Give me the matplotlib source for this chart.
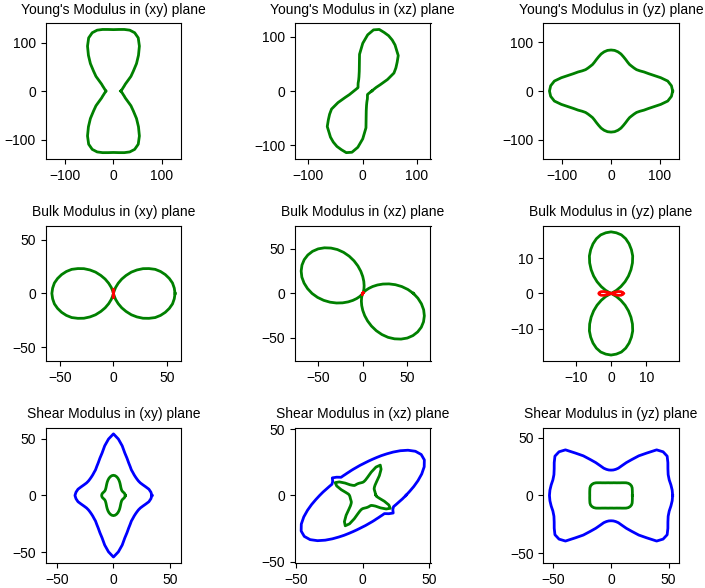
import numpy as np
from matplotlib import pyplot as plt

plt.rcParams['font.family'] = ['Liberation Sans', 'DejaVu Sans']
plt.rcParams['font.size'] = 10

# directions (deg) at which the radii were read; curves are centrosymmetric,
# so each list covers 0..175 and is drawn again at +180
angles = np.arange(0, 180, 5)

young_xy = [15, 16, 17.8, 19.5, 21.5, 24.5, 28, 35, 47, 58, 74, 90, 107, 121, 128, 130, 129, 127.5,
            126.7, 127.5, 129, 130, 128, 121, 107, 90, 74, 58, 47, 35, 28, 24.5, 21.5, 19.5, 17.8, 16]
young_xz = [16.5, 18.5, 21.4, 25.5, 34.4, 50.3, 66.4, 74.6, 82.8, 92.5, 97.4, 103.7, 108.6, 112.6, 115, 117.5, 114.5, 104,
            88, 68, 37, 27, 22, 19, 17, 15, 13.5, 12.2, 11.3, 10.8, 11.1, 11.5, 12.1, 12.8, 13.7, 14.9]
young_yz = [126.8, 124.8, 118.5, 106, 94, 85, 78.5, 72.5, 68.5, 67, 66.5, 66.6, 68.5, 71.5, 75, 79, 82, 84,
            84.5, 84, 82, 79, 75, 71.5, 68.5, 66.6, 66.5, 67, 68.5, 72.5, 78.5, 85, 94, 106, 118.5, 124.8]

# bulk: negative values are drawn in red
bulk_xy = [57.5, 57, 56, 54, 51.5, 48.5, 45, 40.5, 36, 31, 26, 20.5, 15.5, 10.5, 6, 2, -1.5, -3.5,
           -4, -3.5, -1.5, 2, 6, 10.5, 15.5, 20.5, 26, 31, 36, 40.5, 45, 48.5, 51.5, 54, 56, 57]
bulk_xz = [57, 51, 44.6, 38, 31.4, 25, 19, 13.6, 8.9, 5.1, 2.3, 0.5, -1.2, 0.5, 2.3, 5.1, 8.9, 13.6,
           19, 25, 31.4, 38, 44.6, 51, 57, 62.3, 67, 70.9, 73.7, 75.4, 76, 75.4, 73.7, 70.9, 67, 62.3]
bulk_yz = [-3.5, -3.3, -2.9, -2.1, -1.0, 0.3, 1.8, 3.4, 5.2, 7, 8.8, 10.6, 12.3, 13.7, 15, 16.1, 16.9, 17.3,
           17.5, 17.3, 16.9, 16.1, 15, 13.7, 12.3, 10.6, 8.8, 7, 5.2, 3.4, 1.8, 0.3, -1.0, -2.1, -2.9, -3.3]

shear_xy_max = [34, 33.2, 31.8, 29.5, 27.6, 26.2, 25.5, 25.3, 25.4, 25.8, 26.6, 27.6, 29.5, 31.8, 35, 38.8, 44.5, 50,
                54.4, 50, 44.5, 38.8, 35, 31.8, 29.5, 27.6, 26.6, 25.8, 25.4, 25.3, 25.5, 26.2, 27.6, 29.5, 31.8, 33.2]
shear_xy_min = [10.4, 10.3, 10, 9.5, 9, 8.7, 8.6, 8.7, 9, 9.4, 10, 10.8, 11.8, 13, 14.3, 15.6, 16.7, 17.5,
                17.8, 17.5, 16.7, 15.6, 14.3, 13, 11.8, 10.8, 10, 9.4, 9, 8.7, 8.6, 8.7, 9, 9.5, 10, 10.3]
shear_xz_max = [32.5, 35.5, 39.1, 43.1, 47.3, 51.1, 53.6, 53.8, 51.8, 48.2, 44, 39.9, 36.2, 33.1, 30.4, 28.2, 26.4, 24.9,
                23.7, 22.8, 22, 21.4, 21, 20.7, 20.5, 20.5, 20.6, 20.9, 21.3, 24, 26.5, 25, 24.7, 26.1, 27.8, 30]
shear_xz_min = [10, 9.7, 9.6, 9.6, 9.6, 9.7, 9.9, 10.7, 12.1, 14.8, 19.5, 24.1, 26.4, 23.6, 18.7, 14.3, 11.8, 10.5,
                9.9, 9.7, 9.6, 9.6, 9.6, 9.6, 9.6, 9.6, 9.8, 10.8, 12.5, 16.3, 20.4, 22.9, 20.9, 16.8, 12.9, 10.7]
shear_yz_max = [53.5, 53.3, 52.8, 52.3, 52.8, 54.5, 57, 59.5, 59, 56, 48, 42, 36, 31.5, 27.5, 24.5, 23, 22.2,
                22, 22.2, 23, 24.5, 27.5, 31.5, 36, 42, 48, 56, 59, 59.5, 57, 54.5, 52.8, 52.3, 52.8, 53.3]
shear_yz_min = [18.5, 18.6, 18.8, 19.1, 19.5, 19.6, 19.2, 18.4, 17.1, 15.6, 14.4, 13.4, 12.7, 12.1, 11.7, 11.4, 11.2, 11,
                11, 11, 11.2, 11.4, 11.7, 12.1, 12.7, 13.4, 14.4, 15.6, 17.1, 18.4, 19.2, 19.6, 19.5, 19.1, 18.8, 18.6]


def closed(r):
    r = np.asarray(r, dtype=float)
    th = np.deg2rad(np.r_[angles, angles + 180, 360])
    rr = np.r_[r, r, r[0]]
    return rr * np.cos(th), rr * np.sin(th)


panels = [
    ("Young's Modulus in (xy) plane", [(young_xy, 'green')], [-100, 0, 100]),
    ("Young's Modulus in (xz) plane", [(young_xz, 'green')], [-100, 0, 100]),
    ("Young's Modulus in (yz) plane", [(young_yz, 'green')], [-100, 0, 100]),
    ("Bulk Modulus in (xy) plane", 'bulk', bulk_xy, [-50, 0, 50]),
    ("Bulk Modulus in (xz) plane", 'bulk', bulk_xz, [-50, 0, 50]),
    ("Bulk Modulus in (yz) plane", 'bulk', bulk_yz, [-10, 0, 10]),
    ("Shear Modulus in (xy) plane", [(shear_xy_max, 'blue'), (shear_xy_min, 'green')], [-50, 0, 50]),
    ("Shear Modulus in (xz) plane", [(shear_xz_max, 'blue'), (shear_xz_min, 'green')], [-50, 0, 50]),
    ("Shear Modulus in (yz) plane", [(shear_yz_max, 'blue'), (shear_yz_min, 'green')], [-50, 0, 50]),
]

W, H = 705, 588
lefts = [45.7, 295, 543.3]
tops = [23.3, 225.7, 427.7]
size = 135.5

fig = plt.figure(figsize=(W / 100, H / 100), dpi=100)

for i, p in enumerate(panels):
    row, col = divmod(i, 3)
    ax = fig.add_axes([lefts[col] / W, 1 - (tops[row] + size) / H, size / W, size / H])
    title = p[0]
    if p[1] == 'bulk':
        r = np.asarray(p[2], dtype=float)
        curves = [(np.clip(r, 0, None), 'green'), (np.clip(-r, 0, None), 'red')]
        ticks = p[3]
    else:
        curves = p[1]
        ticks = p[2]
    lim = 0
    for r, c in curves:
        x, y = closed(r)
        ax.plot(x, y, color=c, lw=2)
        lim = max(lim, np.abs(x).max(), np.abs(y).max())
    lim *= 1.1
    ax.set_xlim(-lim, lim)
    ax.set_ylim(-lim, lim)
    ax.set_xticks(ticks)
    ax.set_yticks(ticks)
    ax.set_title(title, fontsize=10, pad=7)

fig.savefig('out.png', dpi=100)
